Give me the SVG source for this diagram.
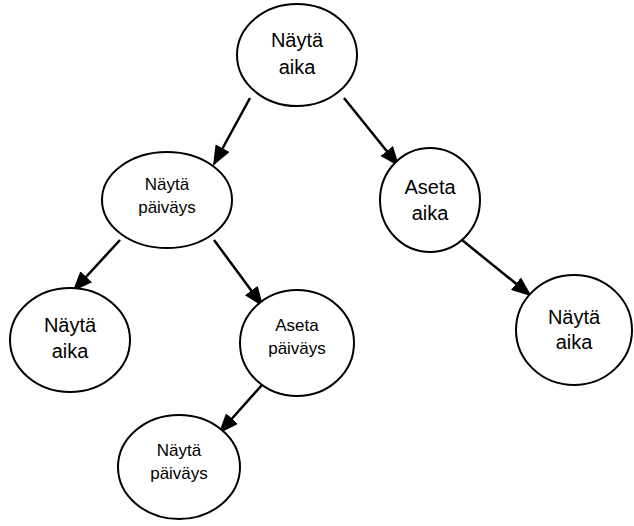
<svg xmlns="http://www.w3.org/2000/svg" width="634" height="526" viewBox="0 0 634 526">
  <style>
    .node ellipse { fill: #ffffff; stroke: #000000; stroke-width: 2; }
    .node text { font-family: "Liberation Sans", Arial, sans-serif; fill: #000000; text-anchor: middle; }
    .big { font-size: 20px; }
    .small { font-size: 17px; }
    .edge { stroke: #000000; stroke-width: 2.5; fill: none; marker-end: url(#arrow); }
  </style>
  <defs>
    <marker id="arrow" markerUnits="userSpaceOnUse" markerWidth="20" markerHeight="16" viewBox="0 0 20 16" refX="18" refY="8" orient="auto">
      <path d="M0,0 L20,8 L0,16 Z" fill="#000000"/>
    </marker>
  </defs>

  <!-- connectors -->
  <g id="edges">
    <line class="edge" x1="250" y1="98" x2="214" y2="164"/>
    <line class="edge" x1="344" y1="98" x2="398" y2="165"/>
    <line class="edge" x1="120" y1="240" x2="74" y2="290"/>
    <line class="edge" x1="214" y1="240" x2="262" y2="305"/>
    <line class="edge" x1="462" y1="240" x2="530" y2="295"/>
    <line class="edge" x1="262" y1="385" x2="220" y2="432"/>
  </g>

  <g id="n1" class="node">
    <ellipse cx="297" cy="55" rx="60" ry="51"/>
    <text class="big" x="297" y="47">Näytä</text>
    <text class="big" x="297" y="74">aika</text>
  </g>
  <g id="n2" class="node">
    <ellipse cx="167" cy="200" rx="65" ry="48"/>
    <text class="small" x="167" y="190">Näytä</text>
    <text class="small" x="167" y="213">päiväys</text>
  </g>
  <g id="n3" class="node">
    <ellipse cx="430" cy="200" rx="50" ry="52"/>
    <text class="big" x="430" y="194">Aseta</text>
    <text class="big" x="430" y="220">aika</text>
  </g>
  <g id="n4" class="node">
    <ellipse cx="70" cy="340" rx="60" ry="52"/>
    <text class="big" x="70" y="332">Näytä</text>
    <text class="big" x="70" y="358">aika</text>
  </g>
  <g id="n5" class="node">
    <ellipse cx="297" cy="343" rx="57" ry="53"/>
    <text class="small" x="297" y="331">Aseta</text>
    <text class="small" x="297" y="354">päiväys</text>
  </g>
  <g id="n6" class="node">
    <ellipse cx="574" cy="330" rx="58" ry="55"/>
    <text class="big" x="574" y="324">Näytä</text>
    <text class="big" x="574" y="349">aika</text>
  </g>
  <g id="n7" class="node">
    <ellipse cx="179" cy="467" rx="61" ry="52"/>
    <text class="small" x="179" y="456">Näytä</text>
    <text class="small" x="179" y="479">päiväys</text>
  </g>
</svg>
